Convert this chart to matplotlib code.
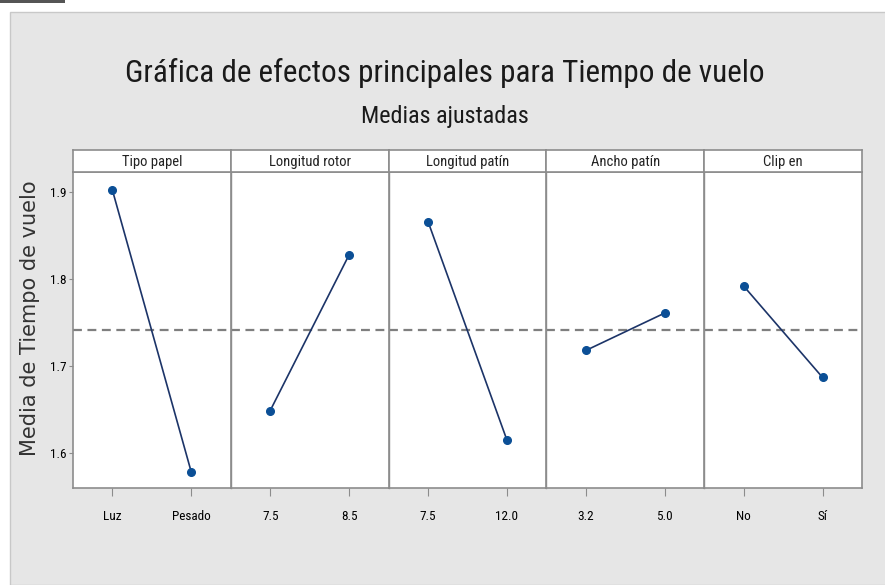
import numpy as np
import matplotlib.pyplot as plt
from matplotlib.patches import Rectangle
from matplotlib import font_manager as fm

# factores y niveles
factores = ['Tipo papel', 'Longitud rotor', 'Longitud patín', 'Ancho patín', 'Clip en']
niveles = [['Luz', 'Pesado'], ['7.5', '8.5'], ['7.5', '12.0'], ['3.2', '5.0'], ['No', 'Sí']]
# medias ajustadas
medias = [[1.902, 1.578], [1.649, 1.828], [1.866, 1.615], [1.718, 1.761], [1.792, 1.687]]
media_global = 1.741
yticks = [1.6, 1.7, 1.8, 1.9]

# fuente estrecha si existe, si no DejaVu Sans
disponibles = set(f.name for f in fm.fontManager.ttflist)
candidatas = ['Roboto Condensed', 'Open Sans Condensed', 'Liberation Sans Narrow',
              'Noto Sans Condensed', 'PT Sans Narrow', 'Archivo Narrow', 'Liberation Sans']
estrecha = next((c for c in candidatas if c in disponibles), 'DejaVu Sans')
FONT = [estrecha, 'DejaVu Sans']

W, H = 885, 585
fig = plt.figure(figsize=(W / 100, H / 100), dpi=100)
fig.patch.set_facecolor('white')

# fondo gris
fig.patches.append(Rectangle((10 / W, 0), 1, 1 - 12 / H, transform=fig.transFigure,
                             facecolor='#e6e6e6', edgecolor='#c8c8c8', lw=1, zorder=-10))
fig.patches.append(Rectangle((0, 1 - 3 / H), 65 / W, 3 / H, transform=fig.transFigure,
                             facecolor='#555555', edgecolor='none', zorder=-9))

GRIS = '#8c8c8c'

left, right = 73 / W, 862 / W
bottom, top = 1 - 488 / H, 1 - 172 / H
strip_top = 1 - 150 / H
n = len(factores)
ancho = (right - left) / n

for i in range(n):
    x0 = left + i * ancho
    ax = fig.add_axes([x0, bottom, ancho, top - bottom])
    ax.set_facecolor('white')
    ax.axhline(media_global, color='#7f7f7f', ls=(0, (4, 2.5)), lw=1.6, zorder=1)
    ax.plot([0, 1], medias[i], color='#1c3468', lw=1.2, zorder=2)
    ax.plot([0, 1], medias[i], ls='none', marker='o', ms=5.5, color='#0b4f96', zorder=3)
    ax.set_xlim(-0.5, 1.5)
    ax.set_ylim(1.560, 1.923)
    ax.set_xticks([0, 1])
    ax.set_xticklabels(niveles[i], family=FONT, fontsize=9.5)
    ax.tick_params(axis='x', length=6, color=GRIS, pad=10)
    if i == 0:
        ax.set_yticks(yticks)
        ax.set_yticklabels([f'{v:.1f}' for v in yticks], family=FONT, fontsize=9.5)
        ax.tick_params(axis='y', length=3, color=GRIS, pad=2)
    else:
        ax.set_yticks([])
    for s in ax.spines.values():
        s.set_color(GRIS)
        s.set_linewidth(1.2)
    if i != 0:
        ax.spines['left'].set_linewidth(1.0)

    # cabecera del panel
    hx = fig.add_axes([x0, top, ancho, strip_top - top])
    hx.set_facecolor('white')
    hx.set_xticks([])
    hx.set_yticks([])
    for s in hx.spines.values():
        s.set_color(GRIS)
        s.set_linewidth(1.2)
    hx.text(0.5, 0.45, factores[i], ha='center', va='center', family=FONT,
            fontsize=10.5, color='#222222', transform=hx.transAxes)

titulo = fig.text(0.5 + 2 / W, 1 - 73 / H, 'Gráfica de efectos principales para Tiempo de vuelo',
                  ha='center', va='center', family=FONT, fontsize=25, color='#1a1a1a')
subtitulo = fig.text(0.5 + 2 / W, 1 - 116 / H, 'Medias ajustadas', ha='center', va='center',
                     family=FONT, fontsize=16, color='#1a1a1a')
fig.text(30 / W, 1 - 318 / H, 'Media de Tiempo de vuelo', rotation=90,
         ha='center', va='center', fontsize=15, color='#333333')

# ajustar tamaño de los textos al ancho del original
renderer = fig.canvas.get_renderer()
for t, px in [(titulo, 640), (subtitulo, 168)]:
    w = t.get_window_extent(renderer).width
    t.set_fontsize(min(t.get_fontsize() * px / w, t.get_fontsize() * 1.4))

fig.savefig('out.png', dpi=100)
